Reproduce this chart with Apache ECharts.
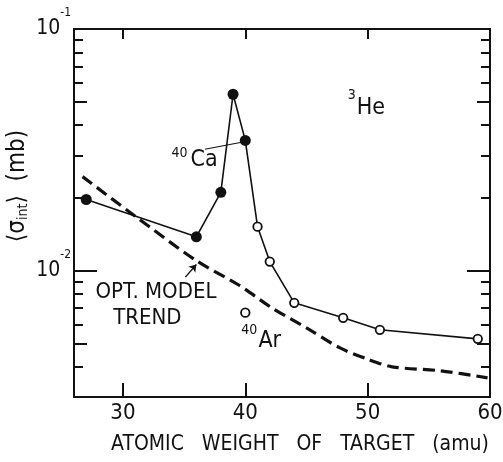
<!DOCTYPE html>
<html>
<head>
<meta charset="utf-8">
<script src="https://cdn.jsdelivr.net/npm/echarts@6/dist/echarts.min.js"></script>
<style>
  html, body { margin: 0; padding: 0; background: #fff; }
  #chart { width: 503px; height: 462px; }
</style>
</head>
<body>
<div id="chart"></div>
<script>
const FONT = '"DejaVu Sans Condensed", "DejaVu Sans", sans-serif'

// filled points, joined by the solid curve
const filledA = [27, 36, 38, 39, 40]
const filledSigma = [0.0197, 0.0138, 0.0211, 0.0537, 0.0346]
// open points, same curve
const openA = [41, 42, 44, 48, 51, 59]
const openSigma = [0.0152, 0.0109, 0.00736, 0.00638, 0.00569, 0.00522]
// lone 40Ar point
const arA = [40]
const arSigma = [0.0067]
// optical model trend (dashed)
const trendA = [26.7, 31, 36, 39.5, 42.2, 45, 47.7, 50, 52, 56, 59.8]
const trendSigma = [0.0245, 0.0168, 0.011, 0.0087, 0.007, 0.0058, 0.0048, 0.0043, 0.004, 0.00385, 0.0036]

// axis ticks / labels
const xLabelValues = [30, 40, 50, 60]
const xTickValues = [30, 40, 50]
const yLabelValues = [0.01, 0.1]
const yMajorTicks = [0.01]
const yMidTicks = [0.005, 0.05]
const yMinorTicks = [0.004, 0.006, 0.007, 0.008, 0.009, 0.02, 0.03, 0.04, 0.06, 0.07, 0.08, 0.09]

// text notes (centre in data coords) and helper lines
const noteText = ['{sup|40}{ca|Ca}', '{sup|3}{he|He}', '{sup|40}{ar|Ar}', 'OPT. MODEL', 'TREND']
const noteA = [35.85, 49.9, 41.3, 32.7, 32.0]
const noteSigma = [0.0286, 0.0472, 0.00512, 0.00811, 0.00638]
const leaderLine = [[36.7, 0.0318], [39.7, 0.034]]
const arrowLine = [[35.1, 0.0094], [36.0, 0.0106]]

const zip = (xs, ys) => xs.map((x, i) => [x, ys[i]])
const curve = zip(filledA.concat(openA), filledSigma.concat(openSigma))

const black = '#111'

function yAxisOf(pos, ticks, len, withLine, withLabel) {
  return {
    type: 'log',
    logBase: 10,
    min: 0.003,
    max: 0.1,
    position: pos,
    axisLine: { show: withLine, lineStyle: { color: black, width: 2 } },
    axisTick: { show: true, inside: true, length: len, customValues: ticks, lineStyle: { color: black, width: 2 } },
    axisLabel: withLabel ? {
      show: true,
      customValues: yLabelValues,
      margin: 3,
      formatter: v => '{b|10}{s|' + Math.round(Math.log10(v)) + '}',
      rich: {
        b: { fontFamily: FONT, fontSize: 21, color: black, lineHeight: 44 },
        s: { fontFamily: FONT, fontSize: 12, color: black, lineHeight: 14, verticalAlign: 'top' }
      }
    } : { show: false },
    splitLine: { show: false }
  }
}

const chart = echarts.init(document.getElementById('chart'))
chart.setOption({
  animation: false,
  backgroundColor: '#fff',
  grid: { left: 74, right: 13, top: 29, bottom: 65, outerBoundsMode: 'none' },
  xAxis: [
    {
      type: 'value', min: 26, max: 60, position: 'bottom',
      axisLine: { lineStyle: { color: black, width: 2 } },
      axisTick: { inside: true, length: 14, customValues: xTickValues, lineStyle: { color: black, width: 2 } },
      axisLabel: { customValues: xLabelValues, margin: 5, fontFamily: FONT, fontSize: 22, color: black },
      splitLine: { show: false },
      name: 'ATOMIC   WEIGHT   OF   TARGET   (amu)',
      nameLocation: 'middle',
      nameGap: 37,
      nameMoveOverlap: false,
      nameTextStyle: { fontFamily: FONT, fontSize: 21, color: black, padding: [0, 0, 0, 36] }
    },
    {
      type: 'value', min: 26, max: 60, position: 'top',
      axisLine: { lineStyle: { color: black, width: 2 } },
      axisTick: { inside: true, length: 10, customValues: xTickValues, lineStyle: { color: black, width: 2 } },
      axisLabel: { show: false },
      splitLine: { show: false }
    }
  ],
  yAxis: [
    Object.assign(yAxisOf('left', yMajorTicks, 23, true, true), {
      name: '⟨σ{sub|int}⟩  (mb)',
      nameLocation: 'middle',
      nameGap: 44,
      nameMoveOverlap: false,
      nameRotate: 90,
      nameTextStyle: {
        fontFamily: FONT, fontSize: 24, color: black, padding: [0, 0, 0, 54],
        rich: { sub: { fontFamily: FONT, fontSize: 14, color: black, verticalAlign: 'bottom', lineHeight: 14 } }
      }
    }),
    yAxisOf('left', yMidTicks, 13, false, false),
    yAxisOf('left', yMinorTicks, 9, false, false),
    yAxisOf('right', yMajorTicks, 23, true, false),
    yAxisOf('right', yMidTicks, 13, false, false),
    yAxisOf('right', yMinorTicks, 9, false, false)
  ],
  series: [
    {
      type: 'line',
      data: zip(trendA, trendSigma),
      showSymbol: false,
      smooth: 0.3,
      lineStyle: { color: black, width: 3.2, type: [12, 6] },
      z: 2
    },
    {
      type: 'line',
      data: curve,
      showSymbol: false,
      lineStyle: { color: black, width: 1.6 },
      z: 3
    },
    {
      type: 'scatter',
      data: zip(filledA, filledSigma),
      symbol: 'circle',
      symbolSize: 11,
      itemStyle: { color: black, opacity: 1 },
      z: 5
    },
    {
      type: 'scatter',
      data: zip(openA.concat(arA), openSigma.concat(arSigma)),
      symbol: 'circle',
      symbolSize: 8.5,
      itemStyle: { color: '#fff', borderColor: black, borderWidth: 1.8, opacity: 1 },
      z: 5
    },
    {
      type: 'lines',
      coordinateSystem: 'cartesian2d',
      data: [{ coords: leaderLine }],
      symbol: 'none',
      lineStyle: { color: black, width: 1.2, opacity: 1 },
      z: 4
    },
    {
      type: 'lines',
      coordinateSystem: 'cartesian2d',
      data: [{ coords: arrowLine }],
      symbol: ['none', 'arrow'],
      symbolSize: 7,
      lineStyle: { color: black, width: 1.4, opacity: 1 },
      z: 4
    },
    {
      type: 'scatter',
      data: noteA.map((a, i) => ({ value: [a, noteSigma[i]], label: { formatter: noteText[i] } })),
      symbolSize: 0,
      silent: true,
      itemStyle: { color: black, opacity: 1 },
      label: {
        show: true,
        position: [0, 0],
        align: 'center',
        verticalAlign: 'middle',
        fontFamily: FONT,
        fontSize: 22,
        color: black,
        opacity: 1,
        textBorderWidth: 0,
        lineHeight: 24,
        rich: {
          sup: { fontFamily: FONT, fontSize: 14, color: black, lineHeight: 15, verticalAlign: 'top' },
          ca: { fontFamily: FONT, fontSize: 23, color: black, lineHeight: 29, padding: [0, 0, 0, 3] },
          he: { fontFamily: FONT, fontSize: 23, color: black, lineHeight: 38, padding: [0, 0, 0, 1] },
          ar: { fontFamily: FONT, fontSize: 23, color: black, lineHeight: 35, padding: [0, 0, 0, 1] }
        }
      },
      z: 6
    }
  ]
})
</script>
</body>
</html>
